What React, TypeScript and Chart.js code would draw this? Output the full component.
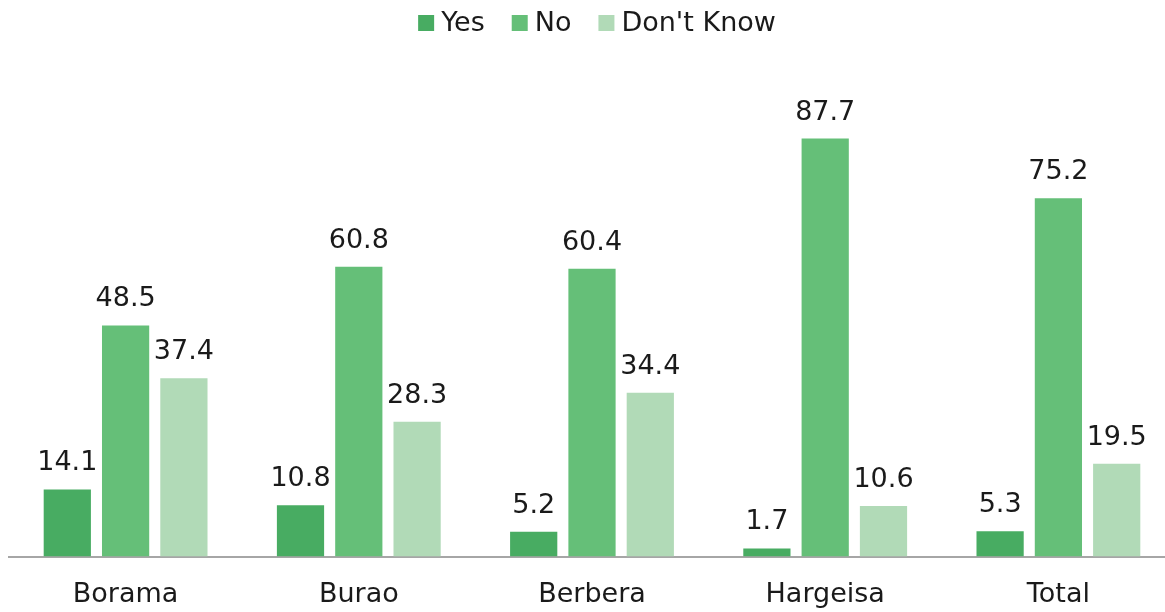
import React, { useEffect, useRef } from "react";
import { Chart, registerables } from "chart.js";

Chart.register(...registerables);

const categories = ["Borama", "Burao", "Berbera", "Hargeisa", "Total"];
const seriesNames = ["Yes", "No", "Don't Know"];
const yesValues = [14.1, 10.8, 5.2, 1.7, 5.3];
const noValues = [48.5, 60.8, 60.4, 87.7, 75.2];
const dontKnowValues = [37.4, 28.3, 34.4, 10.6, 19.5];
const seriesColors = ["#48AC62", "#65BF78", "#B1DAB7"];

const FONT = "'DejaVu Sans', sans-serif";
const FONT_SIZE = 27;

const labelPlugin = {
  id: "valueLabels",
  afterDatasetsDraw(chart: any) {
    const ctx = chart.ctx;
    ctx.save();
    ctx.font = `${FONT_SIZE}px ${FONT}`;
    ctx.fillStyle = "#1a1a1a";
    ctx.textAlign = "center";
    ctx.textBaseline = "alphabetic";
    chart.data.datasets.forEach((ds: any, i: number) => {
      const meta = chart.getDatasetMeta(i);
      meta.data.forEach((bar: any, j: number) => {
        const v = ds.data[j];
        ctx.fillText(v.toFixed(1), bar.x, bar.y - 19);
      });
    });
    ctx.restore();
  },
};

const legendPlugin = {
  id: "customLegend",
  afterDraw(chart: any) {
    const ctx = chart.ctx;
    ctx.save();
    ctx.font = `${FONT_SIZE}px ${FONT}`;
    ctx.textBaseline = "middle";
    ctx.textAlign = "left";
    const box = 16;
    const gapBoxText = 7;
    const gapItems = 27;
    const widths = seriesNames.map((n) => box + gapBoxText + ctx.measureText(n).width);
    const total = widths.reduce((a, b) => a + b, 0) + gapItems * (seriesNames.length - 1);
    let x = 597 - total / 2;
    const cy = 23;
    seriesNames.forEach((n, i) => {
      ctx.fillStyle = seriesColors[i];
      ctx.fillRect(x, cy - box / 2, box, box);
      ctx.fillStyle = "#1a1a1a";
      ctx.fillText(n, x + box + gapBoxText, cy + 1);
      x += widths[i] + gapItems;
    });
    ctx.restore();
  },
};

export default function App() {
  const canvasRef = useRef<HTMLCanvasElement | null>(null);

  useEffect(() => {
    if (!canvasRef.current) return;
    const chart = new Chart(canvasRef.current, {
      type: "bar",
      data: {
        labels: categories,
        datasets: [
          { label: seriesNames[0], data: yesValues, backgroundColor: seriesColors[0] },
          { label: seriesNames[1], data: noValues, backgroundColor: seriesColors[1] },
          { label: seriesNames[2], data: dontKnowValues, backgroundColor: seriesColors[2] },
        ],
      },
      options: {
        animation: false,
        responsive: false,
        maintainAspectRatio: false,
        layout: { padding: { top: 80, left: 9, right: 0, bottom: 3 } },
        datasets: {
          bar: { categoryPercentage: 0.75, barPercentage: 0.81 },
        },
        plugins: {
          legend: { display: false },
          tooltip: { enabled: false },
        },
        scales: {
          x: {
            grid: { display: false, drawTicks: false },
            border: { display: true, color: "#A6A6A6", width: 2 },
            ticks: {
              color: "#1a1a1a",
              padding: 22,
              font: { family: FONT, size: FONT_SIZE },
            },
          },
          y: {
            display: false,
            min: 0,
            max: 100,
          },
        },
      },
      plugins: [labelPlugin, legendPlugin],
    });
    return () => chart.destroy();
  }, []);

  return (
    <div style={{ position: "absolute", left: 0, top: 0, width: 1175, height: 612, overflow: "hidden" }}>
      <canvas ref={canvasRef} width={1175} height={636} style={{ display: "block" }} />
    </div>
  );
}
